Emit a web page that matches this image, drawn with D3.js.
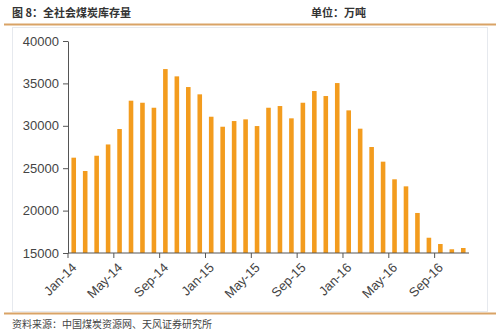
<!DOCTYPE html>
<html>
<head>
<meta charset="utf-8">
<script src="https://cdn.jsdelivr.net/npm/d3@7"></script>
<style>
  html, body { margin: 0; padding: 0; background: #fff; }
  svg { display: block; }
</style>
</head>
<body>
<svg id="chart" width="500" height="336"></svg>
<script>
// Monthly national coal inventory, 10k tonnes
const months = [
  "Jan-14","Feb-14","Mar-14","Apr-14","May-14","Jun-14","Jul-14","Aug-14","Sep-14","Oct-14","Nov-14","Dec-14",
  "Jan-15","Feb-15","Mar-15","Apr-15","May-15","Jun-15","Jul-15","Aug-15","Sep-15","Oct-15","Nov-15","Dec-15",
  "Jan-16","Feb-16","Mar-16","Apr-16","May-16","Jun-16","Jul-16","Aug-16","Sep-16","Oct-16","Nov-16"
];
const stock = [
  26240, 24670, 26470, 27800, 29620, 32960, 32720, 32130, 36690, 35830, 34570, 33710,
  31070, 29890, 30560, 30760, 29970, 32130, 32330, 30880, 32720, 34100, 33510, 35040,
  31820, 29660, 27500, 25770, 23690, 22860, 19720, 16800, 16060, 15440, 15590
];
const yTicks = [15000, 20000, 25000, 30000, 35000, 40000];
const xTickLabels = ["Jan-14","May-14","Sep-14","Jan-15","May-15","Sep-15","Jan-16","May-16","Sep-16"];

const titleText = "图 8：全社会煤炭库存量";
const unitText = "单位：万吨";
const sourceText = "资料来源：中国煤炭资源网、天风证券研究所";

const svg = d3.select("#chart");
const cjk = "'Noto Sans CJK SC', 'Noto Sans', sans-serif";
const latin = "'Liberation Sans', Arial, sans-serif";

// header
svg.append("text").attr("x", 12).attr("y", 17)
  .attr("font-family", cjk).attr("font-size", 11).attr("font-weight", "bold")
  .attr("fill", "#333").text(titleText);
svg.append("text").attr("x", 311).attr("y", 17)
  .attr("font-family", cjk).attr("font-size", 11).attr("font-weight", "bold")
  .attr("fill", "#333").text(unitText);
svg.append("line").attr("x1", 4).attr("x2", 496).attr("y1", 24.5).attr("y2", 24.5)
  .attr("stroke", "#d9a366").attr("stroke-width", 2);

// chart panel border
svg.append("rect").attr("x", 12.5).attr("y", 27.5).attr("width", 475).attr("height", 284)
  .attr("fill", "none").attr("stroke", "#e6e9ee").attr("stroke-width", 1);

// footer
svg.append("line").attr("x1", 4).attr("x2", 496).attr("y1", 313.5).attr("y2", 313.5)
  .attr("stroke", "#d9a366").attr("stroke-width", 2);
svg.append("text").attr("x", 12).attr("y", 328)
  .attr("font-family", cjk).attr("font-size", 10)
  .attr("fill", "#444").text(sourceText);

// scales
const x = d3.scaleBand().domain(months).range([68, 469]).paddingInner(0.6).paddingOuter(0.3);
const y = d3.scaleLinear().domain([15000, 40000]).range([253, 41]);

// bars
svg.append("g").selectAll("rect").data(stock).join("rect")
  .attr("x", (d, i) => x(months[i]))
  .attr("width", x.bandwidth())
  .attr("y", d => y(d))
  .attr("height", d => y(15000) - y(d))
  .attr("fill", "#f39c1e");

// y axis
const yAxis = svg.append("g").attr("transform", "translate(68,0)")
  .call(d3.axisLeft(y).tickValues(yTicks).tickFormat(d3.format("d")).tickSize(5).tickSizeOuter(0));
yAxis.select(".domain").attr("stroke", "#555");
yAxis.selectAll(".tick line").attr("stroke", "#555");
yAxis.selectAll("text").attr("font-family", latin).attr("font-size", 13).attr("fill", "#444").attr("dx", "-1");

// x axis: ticks sit on the left edge of each labelled month
const step = x.step();
const xEdge = m => x(m) - x.paddingInner() * step / 2;
const xAxisG = svg.append("g").attr("transform", "translate(0,253)");
xAxisG.append("line").attr("x1", 68).attr("x2", 469).attr("stroke", "#555");
const ticks = xAxisG.selectAll("g.tick").data(xTickLabels).join("g")
  .attr("class", "tick")
  .attr("transform", d => `translate(${68 + months.indexOf(d) * step},0)`);
ticks.append("line").attr("y2", 5).attr("stroke", "#555");
ticks.append("text")
  .attr("transform", "translate(2,8) rotate(-45)")
  .attr("text-anchor", "end").attr("dy", "0.8em")
  .attr("font-family", latin).attr("font-size", 13).attr("fill", "#444")
  .text(d => d);
</script>
</body>
</html>
